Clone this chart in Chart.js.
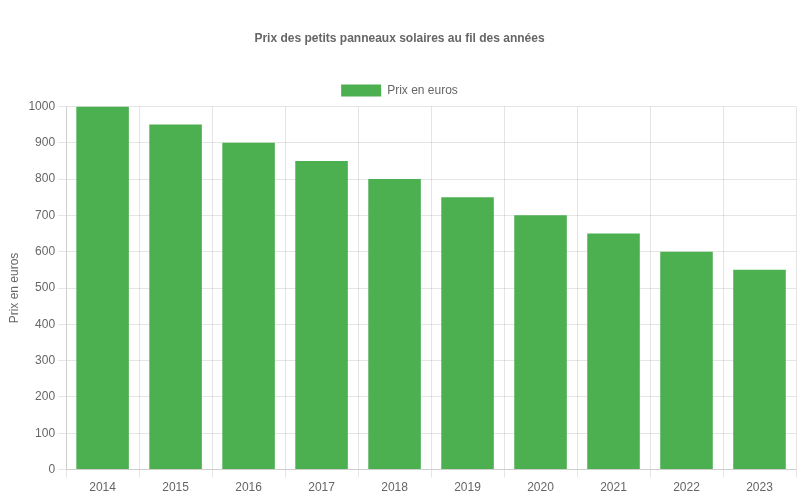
<!DOCTYPE html>
<html>
<head>
<meta charset="utf-8">
<script src="https://cdn.jsdelivr.net/npm/chart.js@4"></script>
<style>
  html, body { margin: 0; padding: 0; background: #fff; }
  #wrap { width: 800px; height: 500px; }
</style>
</head>
<body>
<div id="wrap"><canvas id="barChart"></canvas></div>
<script>
const years = ["2014", "2015", "2016", "2017", "2018", "2019", "2020", "2021", "2022", "2023"];
const prices = [1000, 950, 900, 850, 800, 750, 700, 650, 600, 550];

Chart.defaults.font.family = "'Liberation Sans', Arial, sans-serif";
Chart.defaults.color = "#666";

const ctx = document.getElementById("barChart").getContext("2d");
new Chart(ctx, {
  type: "bar",
  data: {
    labels: years,
    datasets: [
      {
        label: "Prix en euros",
        data: prices,
        backgroundColor: "#4CAF50",
        borderColor: "#4CAF50",
        borderWidth: 0,
      },
    ],
  },
  options: {
    responsive: true,
    maintainAspectRatio: false,
    animation: false,
    layout: { padding: { top: 21, right: 4, bottom: 2, left: 3 } },
    scales: {
      y: {
        beginAtZero: true,
        max: 1000,
        ticks: { stepSize: 100, callback: (v) => String(v) },
        title: { display: true, text: "Prix en euros" },
      },
    },
    plugins: {
      title: {
        display: true,
        text: "Prix des petits panneaux solaires au fil des années",
        font: { size: 12, weight: "bold" },
        padding: { top: 10, bottom: 29 },
      },
      legend: {
        labels: { boxWidth: 40 },
      },
    },
  },
});
</script>
</body>
</html>
